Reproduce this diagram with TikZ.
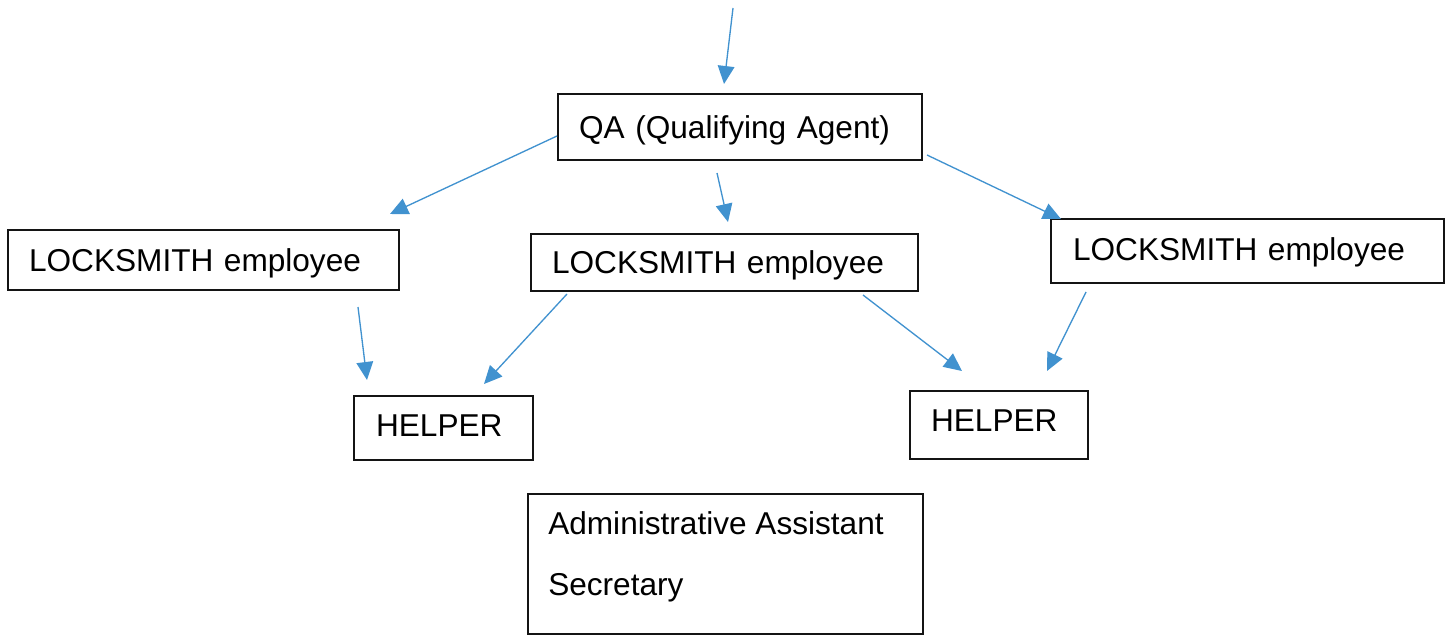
\documentclass[tikz,border=0pt]{standalone}
\usepackage{fontspec}
\setmainfont{Liberation Sans}
\usetikzlibrary{arrows.meta}
\definecolor{arrowblue}{RGB}{65,146,207}
\definecolor{boxline}{RGB}{20,20,20}
\tikzset{
  box/.style n args={4}{draw=boxline, line width=1.6pt, anchor=north west,
    minimum width=#1*0.75pt, minimum height=#2*0.75pt,
    inner xsep=#3*0.75pt, inner ysep=0pt,
    text width=(#1-2*#3)*0.75pt, align=left,
    text height=17pt, text depth=#4*0.75pt,
    font=\fontsize{23.7pt}{28pt}\selectfont},
  emptybox/.style 2 args={draw=boxline, line width=1.6pt, anchor=north west,
    minimum width=#1*0.75pt, minimum height=#2*0.75pt, inner sep=0pt},
  boxtext/.style={anchor=base west, inner sep=0pt,
    font=\fontsize{23.7pt}{28pt}\selectfont},
  conn/.style={draw=arrowblue, line width=1pt,
    -{Triangle[length=13.5pt,width=12.5pt]}}
}
\begin{document}
\begin{tikzpicture}[x=0.75pt,y=-0.75pt]
\useasboundingbox (0,0) rectangle (1448,635);

% boxes
\node[box={364}{66}{21}{0}] (qa) at (557,93) {QA (Qualifying Agent)};
\node[box={391}{60}{21}{0}] (lsL) at (7,229) {LOCKSMITH employee};
\node[box={387}{57}{21}{0}] (lsM) at (530,233) {LOCKSMITH employee};
\node[box={393}{64}{22}{4}] (lsR) at (1050,218) {LOCKSMITH employee};
\node[box={179}{64}{22}{6}] (hL) at (353,395) {HELPER};
\node[box={178}{68}{21}{9}] (hR) at (909,390) {HELPER};
\node[emptybox={395}{140}] (adm) at (527,493) {};
\node[boxtext] (adm1) at (548,534) {Administrative Assistant};
\node[boxtext] (adm2) at (548,595) {Secretary};

% free connector ends
\coordinate (t0) at (733,8);    \coordinate (t1) at (724,84);
\coordinate (a0) at (557,136);  \coordinate (a1) at (390,214);
\coordinate (b0) at (717,173);  \coordinate (b1) at (728,222);
\coordinate (c0) at (927,155);  \coordinate (c1) at (1061,219);
\coordinate (d0) at (358,307);  \coordinate (d1) at (367,380);
\coordinate (e0) at (567,294);  \coordinate (e1) at (484,384);
\coordinate (f0) at (863,295);  \coordinate (f1) at (962,371);
\coordinate (g0) at (1086,292); \coordinate (g1) at (1047,371);

\draw[conn] (t0) -- (t1);
\draw[conn] (a0) -- (a1);
\draw[conn] (b0) -- (b1);
\draw[conn] (c0) -- (c1);
\draw[conn] (d0) -- (d1);
\draw[conn] (e0) -- (e1);
\draw[conn] (f0) -- (f1);
\draw[conn] (g0) -- (g1);
\end{tikzpicture}
\end{document}
